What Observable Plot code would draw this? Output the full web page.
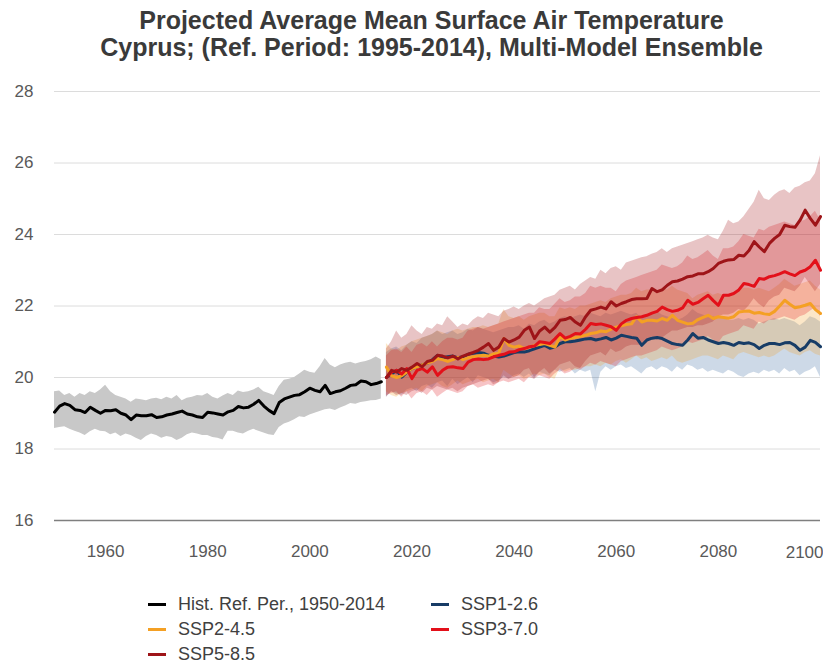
<!DOCTYPE html>
<html>
<head>
<meta charset="utf-8">
<script src="https://cdn.jsdelivr.net/npm/d3@7"></script>
<script src="https://cdn.jsdelivr.net/npm/@observablehq/plot@0.6"></script>
<style>
  html, body { margin: 0; padding: 0; background: #fff; }
  #wrap { position: relative; width: 823px; height: 666px; overflow: hidden; font-family: "Liberation Sans", Arial, sans-serif; }
  #title { position: absolute; left: 20px; top: 7px; width: 823px; text-align: center; font-weight: bold; font-size: 25px; line-height: 27px; color: #3a3a3a; }
  #chart { position: absolute; left: 0; top: 70px; }
  .leg { position: absolute; font-size: 18px; color: #404040; display: flex; align-items: center; white-space: nowrap; }
  .sw { display: inline-block; width: 18px; height: 3px; margin-right: 12px; }
</style>
</head>
<body>
<div id="wrap">
  <div id="title">Projected Average Mean Surface Air Temperature<br>Cyprus; (Ref. Period: 1995-2014), Multi-Model Ensemble</div>
  <div id="chart"></div>
  <div id="legend"></div>
</div>
<script>
// ---------- data ----------
const histYears = d3.range(1950, 2015);
const futYears = d3.range(2015, 2101);

const histMean = [
  19.03, 19.2, 19.27, 19.22, 19.1,
  19.08, 19.02, 19.17, 19.08, 19.0,
  19.08, 19.07, 19.1, 19.0, 18.95,
  18.82, 18.95, 18.93, 18.93, 18.96,
  18.88, 18.9, 18.95, 18.98, 19.02,
  19.06, 18.98, 18.95, 18.9, 18.88,
  19.03, 19.01, 18.98, 18.95, 19.04,
  19.08, 19.19, 19.15, 19.17, 19.25,
  19.36, 19.2, 19.08, 18.99, 19.3,
  19.4, 19.45, 19.5, 19.52, 19.6,
  19.7, 19.64, 19.6, 19.78, 19.55,
  19.6, 19.63, 19.7, 19.78, 19.8,
  19.9, 19.88, 19.8, 19.83, 19.88
];
const histLo = [
  18.57, 18.6, 18.62, 18.55, 18.5,
  18.45, 18.38, 18.48, 18.55, 18.5,
  18.48, 18.4, 18.45, 18.35, 18.42,
  18.38, 18.3, 18.24, 18.35, 18.42,
  18.38, 18.3, 18.35, 18.32, 18.24,
  18.3, 18.4, 18.45, 18.42, 18.38,
  18.38, 18.32, 18.3, 18.25, 18.5,
  18.5, 18.45, 18.42, 18.5, 18.55,
  18.5, 18.45, 18.4, 18.38, 18.6,
  18.7, 18.75, 18.82, 18.9, 18.88,
  18.95, 19.0, 19.05, 19.1, 19.12,
  19.08, 19.15, 19.2, 19.27, 19.25,
  19.3, 19.32, 19.35, 19.36, 19.4
];
const histHi = [
  19.6, 19.62, 19.5, 19.55, 19.45,
  19.55, 19.5, 19.6, 19.55, 19.65,
  19.78, 19.6, 19.5, 19.45, 19.4,
  19.31, 19.4, 19.38, 19.35, 19.4,
  19.42, 19.38, 19.45, 19.4, 19.5,
  19.35, 19.42, 19.45, 19.5, 19.48,
  19.55, 19.45, 19.4, 19.48, 19.55,
  19.5, 19.62, 19.58, 19.6, 19.65,
  19.73, 19.6, 19.55, 19.5, 19.75,
  19.92, 19.95, 20.0, 20.1, 20.2,
  20.15, 20.12, 20.3, 20.53, 20.35,
  20.27, 20.35, 20.4, 20.43, 20.38,
  20.42, 20.45, 20.5, 20.57, 20.5
];

// SSP1-2.6
const ssp126Mean = [
  20.0, 20.1, 20.2, 20.01, 20.15,
  20.25, 20.3, 20.35, 20.4, 20.5,
  20.62, 20.55, 20.58, 20.6, 20.55,
  20.58, 20.65, 20.68, 20.7, 20.68,
  20.62, 20.6, 20.57, 20.6, 20.65,
  20.7, 20.72, 20.71, 20.75, 20.8,
  20.85, 20.9, 20.82, 20.85, 20.95,
  21.0, 21.0, 21.02, 21.05, 21.08,
  21.09, 21.05, 21.08, 21.12, 21.05,
  21.1, 21.18, 21.15, 21.12, 21.1,
  20.9, 21.05, 21.1, 21.12, 21.09,
  21.02, 20.95, 20.92, 20.9, 21.05,
  21.23, 21.1, 21.12, 21.05, 21.0,
  20.95, 20.98, 20.95, 20.9, 20.98,
  20.95, 20.97, 20.92, 20.81, 20.9,
  20.95, 20.95, 20.92, 20.97, 20.98,
  20.9, 20.76, 20.85, 21.04, 20.98,
  20.86
];
const ssp126Lo = [
  19.45, 19.6, 19.55, 19.5, 19.65,
  19.7, 19.6, 19.75, 19.8, 19.7,
  19.85, 19.9, 19.75, 19.95, 19.8,
  19.9, 20.0, 19.85, 20.05, 20.0,
  19.95, 19.85, 19.9, 20.0, 19.95,
  20.05, 20.1, 20.0, 20.1, 19.95,
  20.15, 20.1, 20.05, 20.2, 20.15,
  20.2, 20.25, 20.1, 20.2, 20.15,
  20.2, 19.6, 20.15, 20.3, 20.2,
  20.3, 20.35, 20.25, 20.3, 20.2,
  20.1, 20.25, 20.3, 20.2, 20.3,
  20.25, 20.15, 20.3, 20.2, 20.35,
  20.3, 20.2, 20.25, 20.15, 20.2,
  20.15, 20.1, 20.2, 20.15, 20.05,
  20.0, 20.1, 20.15, 20.1, 20.2,
  20.15, 20.2, 20.1, 20.25, 20.15,
  20.2, 20.05, 20.15, 20.2, 20.3,
  20.0
];
const ssp126Hi = [
  20.7, 20.8, 20.85, 20.75, 20.9,
  21.0, 20.95, 21.1, 21.15, 21.2,
  21.3, 21.2, 21.25, 21.3, 21.2,
  21.25, 21.35, 21.3, 21.4, 21.35,
  21.3, 21.25, 21.3, 21.35, 21.4,
  21.4, 21.45, 21.35, 21.5, 21.45,
  21.55, 21.6, 21.5, 21.55, 21.65,
  21.7, 21.65, 21.7, 21.75, 21.7,
  21.8, 21.75, 21.7, 21.8, 21.75,
  21.8, 21.85, 21.8, 21.75, 21.8,
  21.65, 21.75, 21.8, 21.85, 21.75,
  21.7, 21.65, 21.6, 21.65, 21.75,
  21.9, 21.8, 21.75, 21.7, 21.7,
  21.65, 21.7, 21.6, 21.6, 21.65,
  21.6, 21.65, 21.6, 21.5, 21.55,
  21.6, 21.65, 21.6, 21.65, 21.6,
  21.55, 21.45, 21.55, 21.7, 21.65,
  21.55
];

// SSP2-4.5
const ssp245Mean = [
  20.29, 20.05, 20.0, 20.05, 20.15,
  20.25, 20.3, 20.35, 20.4, 20.45,
  20.53, 20.5, 20.45, 20.5, 20.56,
  20.5, 20.55, 20.58, 20.6, 20.62,
  20.6, 20.66, 20.68, 21.09, 20.9,
  20.85, 20.88, 20.81, 20.85, 20.9,
  20.92, 20.95, 20.9, 20.85, 21.14,
  21.05, 21.1, 21.12, 21.15, 21.18,
  21.23, 21.25, 21.3, 21.28, 21.35,
  21.41, 21.45, 21.48, 21.5, 21.7,
  21.55, 21.6, 21.6, 21.58, 21.65,
  21.6, 21.74, 21.6, 21.55, 21.5,
  21.52, 21.62, 21.68, 21.74, 21.65,
  21.7, 21.68, 21.66, 21.7, 21.83,
  21.85, 21.86, 21.8, 21.82, 21.78,
  21.76, 21.85, 22.0, 22.16, 22.05,
  21.95, 21.98, 22.02, 22.07, 21.9,
  21.79
];
const ssp245Lo = [
  19.6, 19.5, 19.45, 19.55, 19.6,
  19.65, 19.7, 19.6, 19.75, 19.8,
  19.85, 19.75, 19.7, 19.8, 19.9,
  19.8, 19.85, 19.9, 19.95, 19.85,
  19.9, 19.95, 19.85, 20.2, 20.1,
  20.0, 20.05, 19.95, 20.0, 20.1,
  20.05, 20.1, 20.0, 19.95, 20.25,
  20.15, 20.2, 20.2, 20.25, 20.3,
  20.3, 20.35, 20.3, 20.4, 20.35,
  20.45, 20.5, 20.4, 20.5, 20.6,
  20.5, 20.55, 20.45, 20.5, 20.55,
  20.5, 20.6, 20.45, 20.4, 20.45,
  20.5, 20.55, 20.6, 20.6, 20.55,
  20.5, 20.6, 20.55, 20.5, 20.65,
  20.7, 20.65, 20.6, 20.55, 20.6,
  20.55, 20.6, 20.7, 20.8, 20.7,
  20.65, 20.6, 20.7, 20.75, 20.65,
  20.6
];
const ssp245Hi = [
  20.95, 20.8, 20.75, 20.85, 20.9,
  21.0, 21.05, 21.1, 21.15, 21.2,
  21.3, 21.25, 21.2, 21.3, 21.35,
  21.3, 21.35, 21.4, 21.4, 21.45,
  21.4, 21.45, 21.5, 21.9, 21.7,
  21.65, 21.7, 21.6, 21.7, 21.75,
  21.8, 21.8, 21.7, 21.7, 21.95,
  21.9, 21.95, 21.9, 22.0, 22.0,
  22.05, 22.1, 22.15, 22.1, 22.2,
  22.25, 22.3, 22.3, 22.35, 22.5,
  22.4, 22.45, 22.45, 22.4, 22.5,
  22.45, 22.55, 22.45, 22.4, 22.35,
  22.2, 22.3, 22.35, 22.4, 22.3,
  22.35, 22.3, 22.3, 22.35, 22.45,
  22.5, 22.5, 22.45, 22.5, 22.45,
  22.4, 22.5, 22.6, 22.75, 22.65,
  22.55, 22.6, 22.65, 22.7, 22.55,
  22.45
];

// SSP3-7.0
const ssp370Mean = [
  20.0, 20.15, 20.2, 20.1, 20.25,
  19.97, 20.2, 20.25, 20.15, 20.3,
  20.06, 20.2, 20.29, 20.3, 20.27,
  20.25, 20.43, 20.5, 20.52, 20.5,
  20.52, 20.58, 20.62, 20.65, 20.71,
  20.72, 20.78, 20.81, 20.86, 20.88,
  21.0, 20.98, 20.95, 21.08, 21.23,
  21.1, 21.15, 21.23, 21.22, 21.35,
  21.51, 21.48, 21.5, 21.46, 21.42,
  21.32, 21.5, 21.6, 21.65, 21.68,
  21.7, 21.74, 21.8, 21.85, 21.97,
  21.9, 21.85, 21.88, 21.95, 22.16,
  22.05, 22.1, 22.2, 22.3, 22.15,
  22.02, 22.3, 22.3, 22.35, 22.45,
  22.63, 22.6, 22.55, 22.77, 22.75,
  22.82, 22.85, 22.9, 22.96, 22.9,
  22.85, 22.95, 23.0, 23.1, 23.28,
  23.0
];
const ssp370Lo = [
  19.5, 19.55, 19.6, 19.45, 19.6,
  19.4, 19.55, 19.6, 19.5, 19.65,
  19.45, 19.55, 19.65, 19.6, 19.55,
  19.6, 19.75, 19.8, 19.7, 19.75,
  19.8, 19.75, 19.85, 19.9, 19.85,
  19.9, 19.95, 19.85, 20.0, 19.95,
  20.05, 20.0, 19.95, 20.1, 20.2,
  20.1, 20.15, 20.25, 20.2, 20.3,
  20.4, 20.35, 20.45, 20.4, 20.35,
  20.3, 20.45, 20.5, 20.55, 20.6,
  20.6, 20.65, 20.7, 20.75, 20.85,
  20.8, 20.75, 20.8, 20.85, 21.0,
  20.95, 21.0, 21.05, 21.15, 21.05,
  20.95, 21.15, 21.2, 21.25, 21.3,
  21.45, 21.4, 21.35, 21.55, 21.5,
  21.6, 21.6, 21.65, 21.7, 21.65,
  21.6, 21.7, 21.75, 21.85, 21.95,
  21.7
];
const ssp370Hi = [
  20.6, 20.75, 20.8, 20.7, 20.85,
  20.7, 20.9, 20.95, 20.85, 21.0,
  20.85, 21.0, 21.1, 21.1, 21.05,
  21.1, 21.3, 21.35, 21.4, 21.35,
  21.4, 21.45, 21.5, 21.55, 21.6,
  21.65, 21.7, 21.75, 21.8, 21.8,
  21.95, 21.9, 21.9, 22.05, 22.2,
  22.1, 22.15, 22.25, 22.25, 22.35,
  22.55, 22.5, 22.55, 22.5, 22.5,
  22.4, 22.6, 22.7, 22.75, 22.8,
  22.85, 22.9, 22.95, 23.0, 23.15,
  23.1, 23.05, 23.1, 23.2, 23.4,
  23.3, 23.35, 23.45, 23.55, 23.4,
  23.3, 23.6, 23.6, 23.65, 23.8,
  24.0, 23.95, 23.9, 24.15, 24.1,
  24.2, 24.25, 24.3, 24.35, 24.3,
  24.25, 24.35, 24.4, 24.5, 24.65,
  24.4
];

// SSP5-8.5
const ssp585Mean = [
  20.0, 20.2, 20.15, 20.25, 20.2,
  20.29, 20.39, 20.3, 20.45, 20.48,
  20.62, 20.6, 20.55, 20.6, 20.52,
  20.6, 20.65, 20.7, 20.76, 20.85,
  20.95, 20.76, 20.85, 21.09, 20.99,
  21.05, 21.13, 21.32, 21.41, 21.09,
  21.3, 21.41, 21.27, 21.4, 21.6,
  21.62, 21.68, 21.55, 21.46, 21.7,
  21.88, 21.92, 21.97, 21.92, 22.12,
  22.0, 22.07, 22.12, 22.18, 22.2,
  22.2, 22.21, 22.49, 22.4, 22.45,
  22.58, 22.68, 22.7, 22.75, 22.82,
  22.84, 22.9, 22.9, 22.96, 23.05,
  23.19, 23.25, 23.29, 23.3, 23.42,
  23.4, 23.55, 23.8, 23.65, 23.52,
  23.75, 23.89, 24.0, 24.26, 24.22,
  24.2, 24.4, 24.68, 24.45, 24.26,
  24.5
];
const ssp585Lo = [
  19.45, 19.6, 19.5, 19.55, 19.5,
  19.6, 19.65, 19.55, 19.7, 19.65,
  19.75, 19.7, 19.65, 19.7, 19.6,
  19.7, 19.75, 19.8, 19.85, 19.9,
  19.95, 19.8, 19.85, 20.05, 19.95,
  20.0, 20.05, 20.2, 20.25, 20.0,
  20.15, 20.25, 20.1, 20.2, 20.35,
  20.4, 20.45, 20.3, 20.25, 20.45,
  20.6, 20.65, 20.7, 20.6, 20.8,
  20.7, 20.75, 20.85, 20.9, 20.9,
  20.9, 20.95, 21.15, 21.05, 21.1,
  21.2, 21.3, 21.3, 21.35, 21.4,
  21.4, 21.45, 21.45, 21.5, 21.55,
  21.7, 21.75, 21.75, 21.8, 21.9,
  21.85, 22.0, 22.2, 22.05, 21.95,
  22.15, 22.25, 22.3, 22.5, 22.45,
  22.4, 22.55, 22.8, 22.6, 22.4,
  22.6
];
const ssp585Hi = [
  20.8, 21.0, 21.3, 21.1, 21.2,
  21.45, 21.3, 21.2, 21.4, 21.35,
  21.5, 21.45, 21.7, 21.55, 21.4,
  21.5, 21.45, 21.6, 21.7, 21.65,
  21.8, 21.75, 21.7, 21.85, 21.9,
  21.97, 21.9, 22.0, 22.07, 22.0,
  22.1, 22.2, 22.25, 22.3, 22.44,
  22.5, 22.55, 22.45, 22.6, 22.7,
  22.8, 22.75, 23.0, 22.9, 23.05,
  23.1, 23.0, 23.2, 23.25, 23.3,
  23.35, 23.38, 23.45, 23.5, 23.6,
  23.5, 23.6, 23.65, 23.7, 23.75,
  23.8, 23.85, 23.9, 23.98, 23.9,
  23.85, 24.1, 24.4, 24.3, 24.35,
  24.5, 24.7, 24.9, 25.24, 25.0,
  24.95, 25.1, 25.2, 25.25, 25.15,
  25.3, 25.35, 25.45, 25.5, 25.7,
  26.2
];

const yTicks = [16, 18, 20, 22, 24, 26, 28];
const xTicks = [1960, 1980, 2000, 2020, 2040, 2060, 2080, 2100];

const seriesNames = ["Hist. Ref. Per., 1950-2014", "SSP1-2.6", "SSP2-4.5", "SSP3-7.0", "SSP5-8.5"];
const lineColors = ["#000000", "#173c66", "#f4a024", "#e3101a", "#9e1418"];
const bandColors = ["#c8c8c8", "#4a78a8", "#f4a024", "#e0141a", "#a31519"];
const bandOpacity = [1, 0.28, 0.25, 0.25, 0.25];

// ---------- build tables ----------
function table(years, mean, lo, hi) {
  if (mean.length !== years.length || lo.length !== years.length || hi.length !== years.length)
    throw new Error("length mismatch " + years.length + " " + mean.length + " " + lo.length + " " + hi.length);
  return years.map((year, i) => ({year, mean: mean[i], lo: lo[i], hi: hi[i]}));
}
const tables = [
  table(histYears, histMean, histLo, histHi),
  table(futYears, ssp126Mean, ssp126Lo, ssp126Hi),
  table(futYears, ssp245Mean, ssp245Lo, ssp245Hi),
  table(futYears, ssp370Mean, ssp370Lo, ssp370Hi),
  table(futYears, ssp585Mean, ssp585Lo, ssp585Hi)
];

const bandMarks = tables.map((t, i) => Plot.areaY(t, {x: "year", y1: "lo", y2: "hi", fill: bandColors[i], fillOpacity: bandOpacity[i]}));
const lineMarks = tables.map((t, i) => Plot.lineY(t, {x: "year", y: "mean", stroke: lineColors[i], strokeWidth: 3, strokeLinejoin: "round"}));

const chart = Plot.plot({
  width: 823,
  height: 500,
  marginTop: 21,
  marginBottom: 50,
  marginLeft: 54,
  marginRight: 3,
  x: {domain: [1950, 2100], label: null},
  y: {domain: [16, 28], label: null},
  style: {fontFamily: "'Liberation Sans', Arial, sans-serif", fontSize: "17px", color: "#595959", background: "#fff"},
  marks: [
    Plot.ruleY(yTicks.filter(d => d > 16), {stroke: "#dcdcdc", strokeWidth: 1}),
    ...bandMarks,
    ...lineMarks,
    Plot.ruleY([16], {stroke: "#7f7f7f", strokeWidth: 1.3}),
    Plot.axisY({ticks: yTicks, tickSize: 0, tickPadding: 21, tickFormat: d => String(d), label: null}),
    Plot.axisX({ticks: xTicks.slice(0, -1), tickSize: 0, tickPadding: 24, tickFormat: d => String(d), label: null}),
    Plot.text(xTicks.slice(-1), {x: d => d, y: 16, text: d => String(d), textAnchor: "end", dx: 3, dy: 32, fontSize: 17, fill: "#595959"})
  ]
});
document.getElementById("chart").appendChild(chart);

// ---------- legend ----------
const legendPos = [
  {left: 148, top: 604},
  {left: 431, top: 604},
  {left: 148, top: 629},
  {left: 431, top: 629},
  {left: 148, top: 654}
];
const legend = document.getElementById("legend");
seriesNames.forEach((name, k) => {
  const d = document.createElement("div");
  d.className = "leg";
  d.style.left = legendPos[k].left + "px";
  d.style.top = (legendPos[k].top - 11) + "px";
  d.style.height = "22px";
  const sw = document.createElement("span");
  sw.className = "sw";
  sw.style.background = lineColors[k];
  const tx = document.createElement("span");
  tx.textContent = name;
  d.appendChild(sw);
  d.appendChild(tx);
  legend.appendChild(d);
});
</script>
</body>
</html>
